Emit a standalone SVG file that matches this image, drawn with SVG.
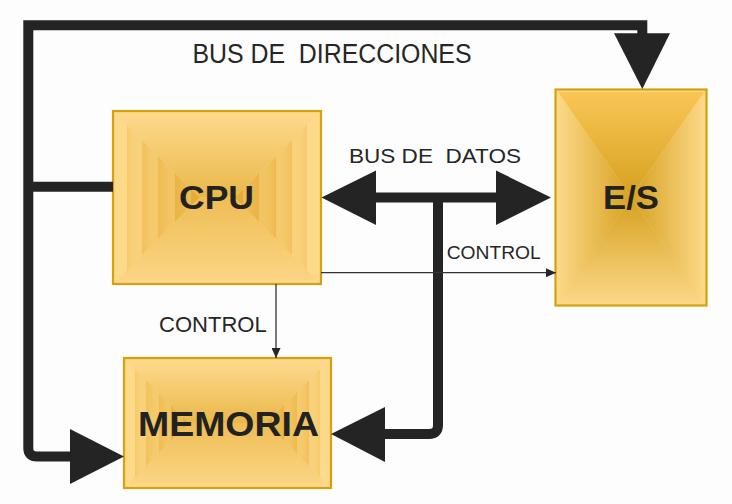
<svg xmlns="http://www.w3.org/2000/svg" width="732" height="504" viewBox="0 0 732 504">
<style>
.bus{fill:none;stroke:#242424;stroke-width:10;stroke-linejoin:miter}
.ah{fill:#242424}
.ctl{fill:none;stroke:#333;stroke-width:1.3}
.frame{fill:#fcd888;stroke:#d4a20e;stroke-width:2.2}
.lbl{font-family:"Liberation Sans",Arial,sans-serif;fill:#262626;white-space:pre}
.big{font-family:"Liberation Sans",Arial,sans-serif;font-weight:bold;fill:#222}
</style>
<defs>
<marker id="arr" markerUnits="userSpaceOnUse" markerWidth="10" markerHeight="9" refX="10" refY="4.5" orient="auto">
<path d="M0,0 L10,4.5 L0,9 z" fill="#262626"/>
</marker>
<!-- banded gradient, light at 0, darker at 1 -->
<linearGradient id="bandL" x1="0" y1="0" x2="1" y2="0">
<stop offset="0" stop-color="#fdd98a"/><stop offset="0.12" stop-color="#fdd98a"/>
<stop offset="0.12" stop-color="#f6cb6a"/><stop offset="0.2" stop-color="#f9d17a"/>
<stop offset="0.3" stop-color="#f9d17a"/><stop offset="0.3" stop-color="#f1c25c"/>
<stop offset="0.42" stop-color="#f5ca6c"/><stop offset="0.5" stop-color="#f5ca6c"/>
<stop offset="0.5" stop-color="#eebc50"/><stop offset="0.62" stop-color="#f2c462"/>
<stop offset="0.7" stop-color="#f2c462"/><stop offset="0.7" stop-color="#e9b444"/>
<stop offset="0.84" stop-color="#edbb52"/><stop offset="0.9" stop-color="#edbb52"/>
<stop offset="0.9" stop-color="#e4ad38"/><stop offset="1" stop-color="#e2aa32"/>
</linearGradient>
<linearGradient id="bandR" href="#bandL" x1="1" y1="0" x2="0" y2="0"/>
<linearGradient id="smT" x1="0" y1="0" x2="0" y2="1">
<stop offset="0" stop-color="#fdd98c"/><stop offset="1" stop-color="#eab84a"/>
</linearGradient>
<linearGradient id="smB" x1="0" y1="1" x2="0" y2="0">
<stop offset="0" stop-color="#fbd585"/><stop offset="1" stop-color="#eebd55"/>
</linearGradient>
<linearGradient id="esT" x1="0" y1="0" x2="0" y2="1">
<stop offset="0" stop-color="#f9c656"/><stop offset="1" stop-color="#d6a11f"/>
</linearGradient>
<linearGradient id="esB" x1="0" y1="1" x2="0" y2="0">
<stop offset="0" stop-color="#fcd788"/><stop offset="1" stop-color="#d6a11f"/>
</linearGradient>
<linearGradient id="esL" x1="0" y1="0" x2="1" y2="0">
<stop offset="0" stop-color="#fcd888"/><stop offset="1" stop-color="#d6a11f"/>
</linearGradient>
<linearGradient id="esR" x1="1" y1="0" x2="0" y2="0">
<stop offset="0" stop-color="#fcd888"/><stop offset="1" stop-color="#d6a11f"/>
</linearGradient>
</defs>
<rect width="732" height="504" fill="#fdfdfd"/>

<g id="node-cpu">
<rect class="frame" x="113" y="111" width="208" height="173"/>
<polygon points="117,115 317,115 234.5,197.5 199.5,197.5" fill="url(#smT)"/>
<polygon points="117,280 317,280 234.5,197.5 199.5,197.5" fill="url(#smB)"/>
<polygon points="117,115 117,280 199.5,197.5" fill="url(#bandL)"/>
<polygon points="317,115 317,280 234.5,197.5" fill="url(#bandR)"/>
<text class="big" x="179" y="209" font-size="34" textLength="75" lengthAdjust="spacingAndGlyphs">CPU</text>
</g>

<g id="node-es">
<rect class="frame" x="555.5" y="89.5" width="151" height="216"/>
<polygon points="558,92 704,92 631,197.5" fill="url(#esT)"/>
<polygon points="558,303 704,303 631,197.5" fill="url(#esB)"/>
<polygon points="558,92 558,303 631,197.5" fill="url(#esL)"/>
<polygon points="704,92 704,303 631,197.5" fill="url(#esR)"/>
<text class="big" x="603" y="209" font-size="34" textLength="56" lengthAdjust="spacingAndGlyphs">E/S</text>
</g>

<g id="node-memoria">
<rect class="frame" x="124" y="358" width="207" height="130"/>
<polygon points="128,362 327,362 266,423 189,423" fill="url(#smT)"/>
<polygon points="128,484 327,484 266,423 189,423" fill="url(#smB)"/>
<polygon points="128,362 128,484 189,423" fill="url(#bandL)"/>
<polygon points="327,362 327,484 266,423" fill="url(#bandR)"/>
<text class="big" x="138" y="435.7" font-size="35" textLength="181" lengthAdjust="spacingAndGlyphs">MEMORIA</text>
</g>

<g id="connectors">
<!-- bus de direcciones -->
<path class="bus" d="M72 456.5 L37 456.5 Q28.3 456.5 28.3 448 L28.3 25.3 L642.3 25.3 L642.3 35"/>
<path class="bus" d="M28.3 186.7 L113 186.7"/>
<polygon class="ah" points="614,33.3 670,33.3 642.3,89"/>
<polygon class="ah" points="70,429 70,484 124,456.5"/>
<!-- bus de datos -->
<path class="bus" d="M374 197.5 L498 197.5"/>
<path class="bus" d="M438 197.5 L438 425 Q438 434 429 434 L383 434"/>
<polygon class="ah" points="376,170.5 376,225 321.5,197.5"/>
<polygon class="ah" points="496,170.5 496,225 551,197.5"/>
<polygon class="ah" points="385,407 385,462 331,434"/>
<!-- control -->
<path class="ctl" d="M321 272.7 L556 272.7" marker-end="url(#arr)"/>
<path class="ctl" d="M276 284 L276 358" marker-end="url(#arr)"/>
</g>

<g id="labels">
<text class="lbl" x="192.5" y="62.7" font-size="27" textLength="279" lengthAdjust="spacingAndGlyphs">BUS DE  DIRECCIONES</text>
<text class="lbl" x="349" y="163.3" font-size="21" textLength="172" lengthAdjust="spacingAndGlyphs">BUS DE  DATOS</text>
<text class="lbl" x="446.7" y="259" font-size="18" textLength="94" lengthAdjust="spacingAndGlyphs">CONTROL</text>
<text class="lbl" x="159" y="331.7" font-size="22" textLength="107.7" lengthAdjust="spacingAndGlyphs">CONTROL</text>
</g>
</svg>
